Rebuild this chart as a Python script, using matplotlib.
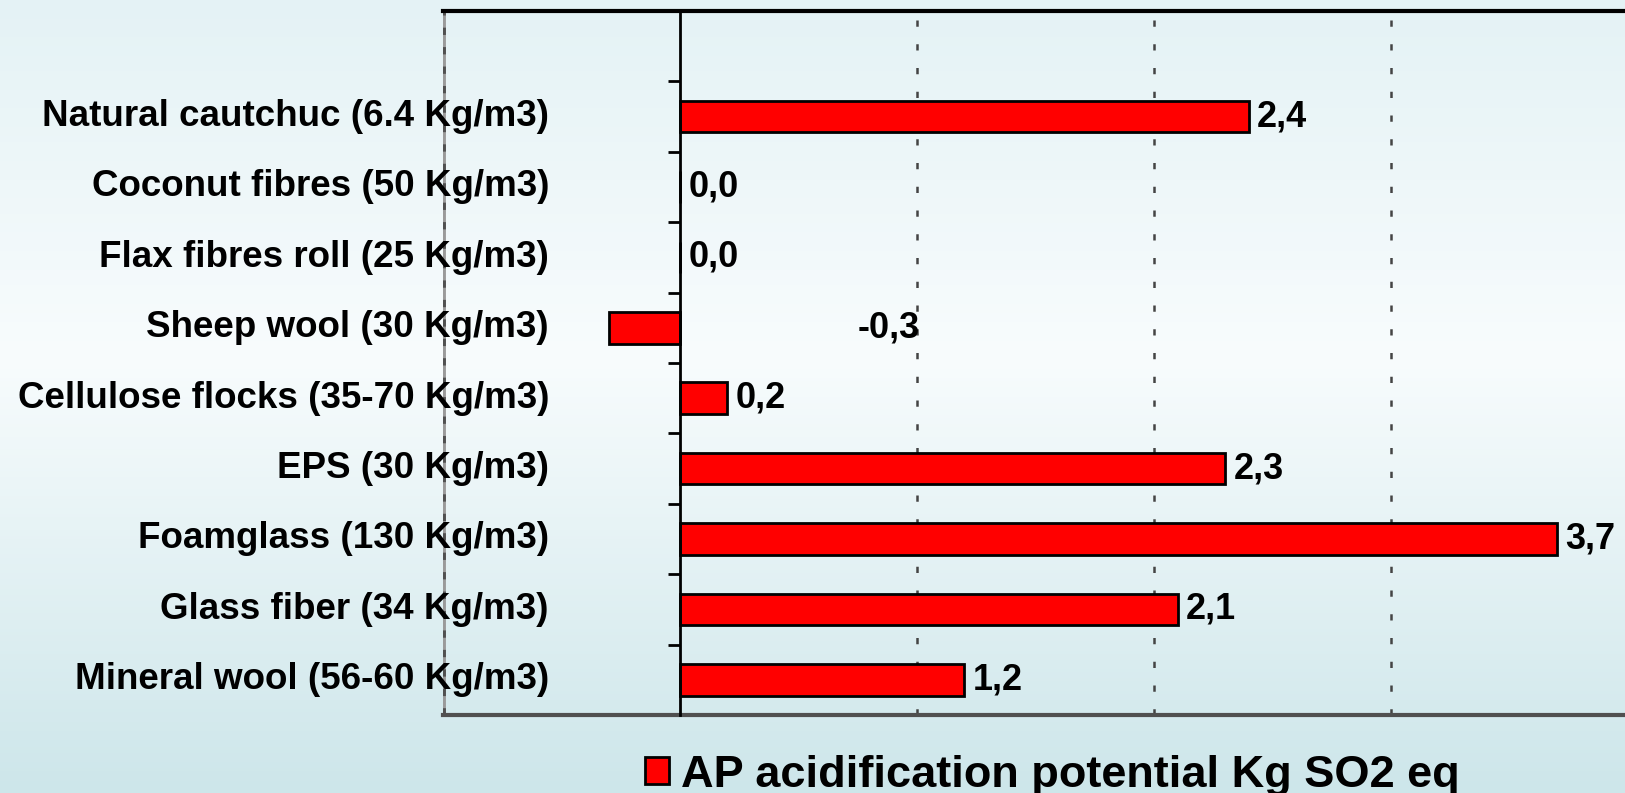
import numpy as np
import matplotlib
matplotlib.use("Agg")
import matplotlib.pyplot as plt
from matplotlib.colors import LinearSegmentedColormap
from matplotlib.patches import Patch
from matplotlib.transforms import blended_transform_factory

plt.rcParams["font.family"] = ["Liberation Sans", "DejaVu Sans"]

# --- data (top to bottom as shown) ---
materials = [
    "Natural cautchuc (6.4 Kg/m3)",
    "Coconut fibres (50 Kg/m3)",
    "Flax fibres roll (25 Kg/m3)",
    "Sheep wool (30 Kg/m3)",
    "Cellulose flocks (35-70 Kg/m3)",
    "EPS (30 Kg/m3)",
    "Foamglass (130 Kg/m3)",
    "Glass fiber (34 Kg/m3)",
    "Mineral wool (56-60 Kg/m3)",
]
ap_values = [2.4, 0.0, 0.0, -0.3, 0.2, 2.3, 3.7, 2.1, 1.2]
series_name = "AP acidification potential Kg SO2 eq"

W, H = 1625, 793
fig = plt.figure(figsize=(W / 100, H / 100), dpi=100)

# background gradient
bg = fig.add_axes([0, 0, 1, 1], zorder=-10)
cmap = LinearSegmentedColormap.from_list(
    "bg", [(0.0, "#cde6ea"), (0.55, "#f8fcfd"), (1.0, "#e4f2f5")])
bg.imshow(np.linspace(0, 1, 256).reshape(-1, 1), aspect="auto", cmap=cmap,
          origin="lower", extent=[0, 1, 0, 1])
bg.axis("off")

ax = fig.add_axes([443 / W, 1 - 715 / H, 1185 / W, 704 / H])
ax.set_facecolor("none")

n = len(materials)
ypos = np.arange(n)[::-1]  # first category at the top
ax.barh(ypos, ap_values, height=0.45, color="#ff0000", edgecolor="black",
        linewidth=2, zorder=3)

ax.set_xlim(-1, 4)
ax.set_ylim(-0.5, n + 0.5)

# dotted grid at 1, 2, 3
for gx in [1, 2, 3]:
    ax.axvline(gx, color="#444444", linewidth=1.8, linestyle=(0, (2.5, 7)),
               zorder=1)

# y axis at zero with ticks between categories
ax.spines["left"].set_position(("data", 0))
ax.spines["left"].set_linewidth(2)
ax.spines["left"].set_zorder(4)
ax.set_yticks(np.arange(-0.5, n + 0.5, 1.0))
ax.set_yticklabels([])
ax.tick_params(axis="y", direction="out", length=9, width=2)
ax.set_xticks([])

ax.spines["top"].set_linewidth(3)
ax.spines["right"].set_visible(False)
ax.spines["bottom"].set_color("#505050")
ax.spines["bottom"].set_linewidth(3)

# grey left frame line with dashes
ax.axvline(-1, color="#9a9a9a", linewidth=3.5, zorder=2)
ax.axvline(-1, color="#505050", linewidth=3.5, linestyle=(0, (1.5, 2.5)), zorder=2)

# category labels
lbl_trans = blended_transform_factory(fig.transFigure, ax.transData)
for y, name in zip(ypos, materials):
    ax.text(549 / W, y, name, transform=lbl_trans, ha="right", va="center",
            fontsize=26.5, fontweight="bold", color="black")

# value labels
for y, v in zip(ypos, ap_values):
    txt = f"{v:.1f}".replace(".", ",")
    if v < 0:
        ax.text(0.75, y, txt, ha="left", va="center", fontsize=26,
                fontweight="bold", zorder=5)
    else:
        ax.annotate(txt, (v, y), xytext=(6, 0), textcoords="offset points",
                    ha="left", va="center", fontsize=26, fontweight="bold",
                    annotation_clip=False, zorder=5)

handle = Patch(facecolor="#ff0000", edgecolor="black", linewidth=2)
fig.legend([handle], [series_name], loc="center",
           bbox_to_anchor=(1052 / W, 1 - 775 / H), frameon=False,
           prop={"size": 32.5, "weight": "bold"}, handlelength=0.55,
           handleheight=0.55, handletextpad=0.25, borderpad=0)

fig.savefig("out.png", dpi=100)
